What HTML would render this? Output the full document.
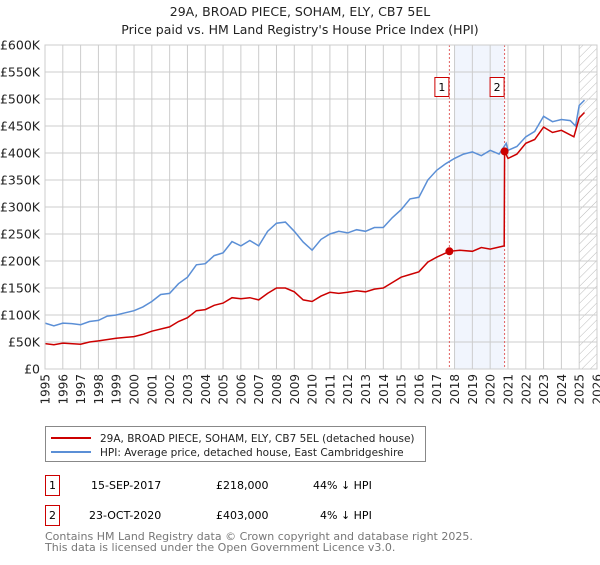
<!DOCTYPE html>
<html><head><meta charset="utf-8"><style>
body{margin:0;background:#fff;font-family:"Liberation Sans","DejaVu Sans",sans-serif;}
svg text{font-family:"DejaVu Sans","Liberation Sans",sans-serif;}
</style></head><body>
<svg id="c" width="600" height="560" xmlns="http://www.w3.org/2000/svg">
<defs><pattern id="hatch" width="6" height="6" patternUnits="userSpaceOnUse" patternTransform="rotate(45)"><line x1="0" y1="0" x2="0" y2="6" stroke="#bbb" stroke-width="1"/></pattern></defs>
<text x="300" y="16" text-anchor="middle" font-size="12.5" fill="#222">29A, BROAD PIECE, SOHAM, ELY, CB7 5EL</text>
<text x="300" y="34" text-anchor="middle" font-size="12.5" fill="#222">Price paid vs. HM Land Registry's House Price Index (HPI)</text>
<g id="grid"></g><g id="marks"></g>
<rect x="45" y="45" width="552" height="324" fill="none" stroke="#ccc"/>
<rect x="45.5" y="426.5" width="380" height="35" fill="#fff" stroke="#888"/>
<line x1="51" y1="438" x2="91" y2="438" stroke="#cc0000" stroke-width="2"/>
<text x="100" y="442" font-size="10.5" fill="#222">29A, BROAD PIECE, SOHAM, ELY, CB7 5EL (detached house)</text>
<line x1="51" y1="452" x2="91" y2="452" stroke="#5b8fd6" stroke-width="2"/>
<text x="100" y="456" font-size="10.5" fill="#222">HPI: Average price, detached house, East Cambridgeshire</text>
<g>
<rect x="45.5" y="475.5" width="14" height="20" fill="#fff" stroke="#cc0000"/><text x="52.5" y="489" text-anchor="middle" font-size="11">1</text>
<text x="91" y="489" font-size="11">15-SEP-2017</text><text x="216" y="489" font-size="11">£218,000</text><text x="313" y="489" font-size="11">44% ↓ HPI</text></g>
<g>
<rect x="45.5" y="505.5" width="14" height="20" fill="#fff" stroke="#cc0000"/><text x="52.5" y="519" text-anchor="middle" font-size="11">2</text>
<text x="89" y="519" font-size="11">23-OCT-2020</text><text x="216" y="519" font-size="11">£403,000</text><text x="320" y="519" font-size="11">4% ↓ HPI</text></g>
<text x="45" y="540" font-size="11" fill="#777">Contains HM Land Registry data © Crown copyright and database right 2025.</text>
<text x="45" y="551" font-size="11" fill="#777">This data is licensed under the Open Government Licence v3.0.</text>
</svg>
<script>
const yTicks=[0,50,100,150,200,250,300,350,400,450,500,550,600];
const yTickLabels=["£0","£50K","£100K","£150K","£200K","£250K","£300K","£350K","£400K","£450K","£500K","£550K","£600K"];
const xYears=[1995,1996,1997,1998,1999,2000,2001,2002,2003,2004,2005,2006,2007,2008,2009,2010,2011,2012,2013,2014,2015,2016,2017,2018,2019,2020,2021,2022,2023,2024,2025,2026];
const hpiT=[1995,1995.5,1996,1996.5,1997,1997.5,1998,1998.5,1999,1999.5,2000,2000.5,2001,2001.5,2002,2002.5,2003,2003.5,2004,2004.5,2005,2005.5,2006,2006.5,2007,2007.5,2008,2008.5,2009,2009.5,2010,2010.5,2011,2011.5,2012,2012.5,2013,2013.5,2014,2014.5,2015,2015.5,2016,2016.5,2017,2017.5,2018,2018.5,2019,2019.5,2020,2020.5,2020.9,2021,2021.5,2022,2022.5,2023,2023.5,2024,2024.5,2024.8,2025,2025.3];
const hpiV=[85,80,85,84,82,88,90,98,100,104,108,115,125,138,140,158,170,193,195,210,215,236,228,238,228,255,270,272,255,235,220,240,250,255,252,258,255,262,262,280,295,315,318,350,368,380,390,398,402,395,405,398,418,405,412,430,440,468,458,462,460,450,488,498];
const redT=[1995,1995.5,1996,1997,1997.5,1998,1999,2000,2000.5,2001,2002,2002.5,2003,2003.5,2004,2004.5,2005,2005.5,2006,2006.5,2007,2007.5,2008,2008.5,2009,2009.5,2010,2010.5,2011,2011.5,2012,2012.5,2013,2013.5,2014,2014.5,2015,2015.5,2016,2016.5,2017,2017.71,2018.3,2019,2019.5,2020,2020.79,2020.81,2021,2021.5,2022,2022.5,2023,2023.5,2024,2024.7,2025,2025.3];
const redV=[47,45,48,46,50,52,57,60,64,70,78,88,95,108,110,118,122,132,130,132,128,140,150,150,143,128,125,135,142,140,142,145,143,148,150,160,170,175,180,198,207,218,220,218,225,222,228,403,390,398,418,425,448,438,442,430,465,475];
const saleT=[2017.71,2020.81];
const saleV=[218,403];
const saleLabels=["1","2"];
const NS="http://www.w3.org/2000/svg";
const X=t=>45+(t-1995)*(552/31);
const Y=v=>369-v*(324/600);
const grid=document.getElementById('grid'),marks=document.getElementById('marks');
function mk(tag,attrs,parent){const e=document.createElementNS(NS,tag);for(const k in attrs)e.setAttribute(k,attrs[k]);parent.appendChild(e);return e;}
let sh=mk('rect',{x:X(2018),y:45,width:X(saleT[1])-X(2018),height:324,fill:'#f1f5fd'},grid);


let ht=mk('rect',{x:X(2025),y:45,width:X(2026)-X(2025),height:324,fill:'url(#hatch)'},grid);


yTicks.forEach((v,i)=>{
 mk('line',{x1:45,x2:597,y1:Y(v),y2:Y(v),stroke:'#ccc'},grid);
 const t=mk('text',{x:40,y:Y(v)+4.5,'text-anchor':'end','font-size':12.5,fill:'#222'},grid);t.textContent=yTickLabels[i];
 
 
});
xYears.forEach(y=>{
 mk('line',{x1:X(y),x2:X(y),y1:45,y2:369,stroke:'#ccc'},grid);
 const t=mk('text',{x:0,y:0,'text-anchor':'end','font-size':12,fill:'#222',transform:`translate(${X(y)+4.5},374) rotate(-90)`},grid);t.textContent=y;
 
 
});
saleT.forEach((t,i)=>{
 const l=mk('line',{x1:X(t),x2:X(t),y1:45,y2:369,stroke:'#e06060','stroke-dasharray':'2,2'},marks);
 
 
 const r=mk('rect',{x:X(t)-14.5,y:77.5,width:14,height:19,fill:'#fff',stroke:'#cc0000'},marks);
 
 
 const tx=mk('text',{x:X(t)-7.5,y:91,'text-anchor':'middle','font-size':11},marks);tx.textContent=saleLabels[i];
});
const path=(T,V)=>T.map((t,i)=>(i?'L':'M')+X(t).toFixed(1)+','+Y(V[i]).toFixed(1)).join('');
const hp=mk('path',{d:path(hpiT,hpiV),fill:'none',stroke:'#5b8fd6','stroke-width':1.5},marks);


const rp=mk('path',{d:path(redT,redV),fill:'none',stroke:'#cc0000','stroke-width':1.5},marks);


saleT.forEach((t,i)=>{
 const c=mk('circle',{cx:X(t),cy:Y(saleV[i]),r:4,fill:'#cc0000'},marks);
 
 
});
</script>
</body></html>
